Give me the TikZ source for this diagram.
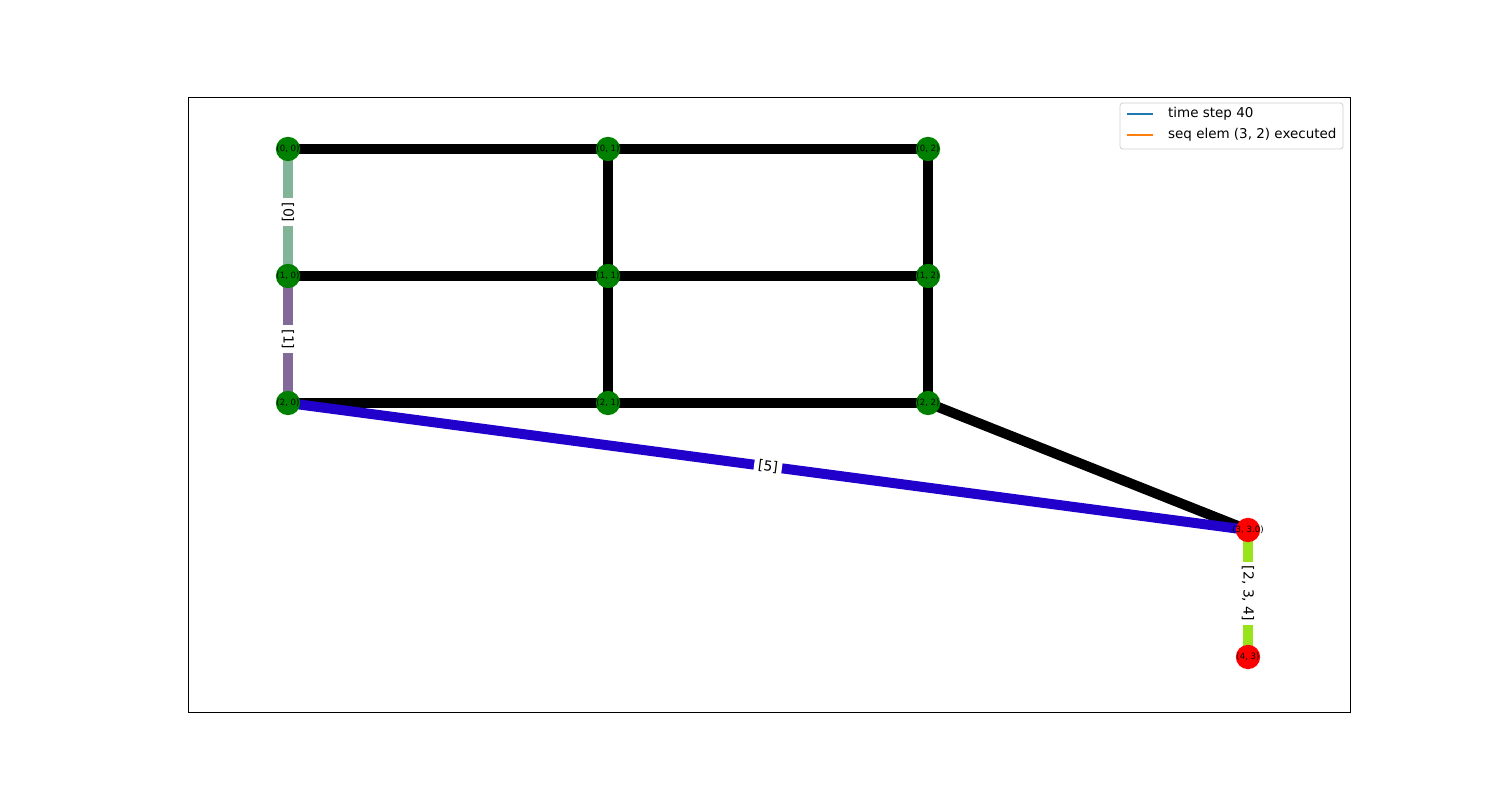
\documentclass[tikz,border=0pt]{standalone}
\usepackage{fontspec}
\setmainfont{DejaVu Sans}
\usetikzlibrary{backgrounds}
\definecolor{NodeGreen}{HTML}{008000}
\definecolor{NodeRed}{HTML}{FF0000}
\definecolor{SageEdge}{HTML}{82B49A}
\definecolor{PlumEdge}{HTML}{82699A}
\definecolor{BlueEdge}{HTML}{2200CC}
\definecolor{LimeEdge}{HTML}{99E31A}
\definecolor{LegBlue}{HTML}{1F77B4}
\definecolor{LegOrange}{HTML}{FF7F0E}
\definecolor{LegFrame}{HTML}{D0D0D0}

\tikzset{
  vlab/.style={inner sep=0pt,font=\fontsize{6.2}{6.2}\selectfont},
  vtx/.style={circle,fill=NodeGreen,minimum size=17.5pt,inner sep=0pt,
    label={[vlab]center:#1}},
  hotvtx/.style={vtx={#1},fill=NodeRed},
  link/.style={line width=7.2pt},
  elabel/.style={fill=white,text=black,inner sep=3pt,
    font=\fontsize{10}{10}\selectfont}
}

\begin{document}
\begin{tikzpicture}[x=0.72pt,y=0.72pt]
  \useasboundingbox (0,0) rectangle (1500,800);
  \draw[line width=0.6pt] (188,88) rectangle (1350,703);

  % grid nodes
  \foreach \r/\y in {0/651,1/524,2/397}
    \foreach \c/\x in {0/288,1/608,2/928}
      \node[vtx={(\r, \c)}] (n\r\c) at (\x,\y) {};
  \node[hotvtx={(3, 3.0)}] (n33) at (1248,270) {};
  \node[hotvtx={(4, 3)}] (n43) at (1248,143) {};

  \begin{scope}[on background layer]
    \draw[link] (n00.center)--(n01.center)--(n02.center)--(n12.center)--(n22.center);
    \draw[link] (n10.center)--(n11.center)--(n12.center);
    \draw[link] (n01.center)--(n11.center)--(n21.center);
    \draw[link] (n20.center)--(n21.center)--(n22.center);
    \draw[link] (n22.center)--(n33.center);
    \draw[link,SageEdge] (n00.center)--(n10.center)
      node[midway,elabel,rotate=-90]{[0]};
    \draw[link,PlumEdge] (n10.center)--(n20.center)
      node[midway,elabel,rotate=-90]{[1]};
    \draw[link,BlueEdge] (n20.center)--(n33.center)
      node[midway,elabel,rotate=-7.5]{[5]};
    \draw[link,LimeEdge] (n33.center)--(n43.center)
      node[midway,elabel,rotate=-90]{[2, 3, 4]};
  \end{scope}

  % legend
  \draw[LegFrame,fill=white,rounded corners=2pt,line width=0.6pt]
    (1120,651) rectangle (1343,697);
  \coordinate (lega) at (1127,686);
  \coordinate (legb) at (1127,665);
  \draw[LegBlue,line width=1.1pt] (lega)--++(26,0)
    node[right=7pt,text=black,font=\fontsize{9.7}{9.7}\selectfont]{time step 40};
  \draw[LegOrange,line width=1.1pt] (legb)--++(26,0)
    node[right=7pt,text=black,font=\fontsize{9.7}{9.7}\selectfont]{seq elem (3, 2) executed};
\end{tikzpicture}
\end{document}
